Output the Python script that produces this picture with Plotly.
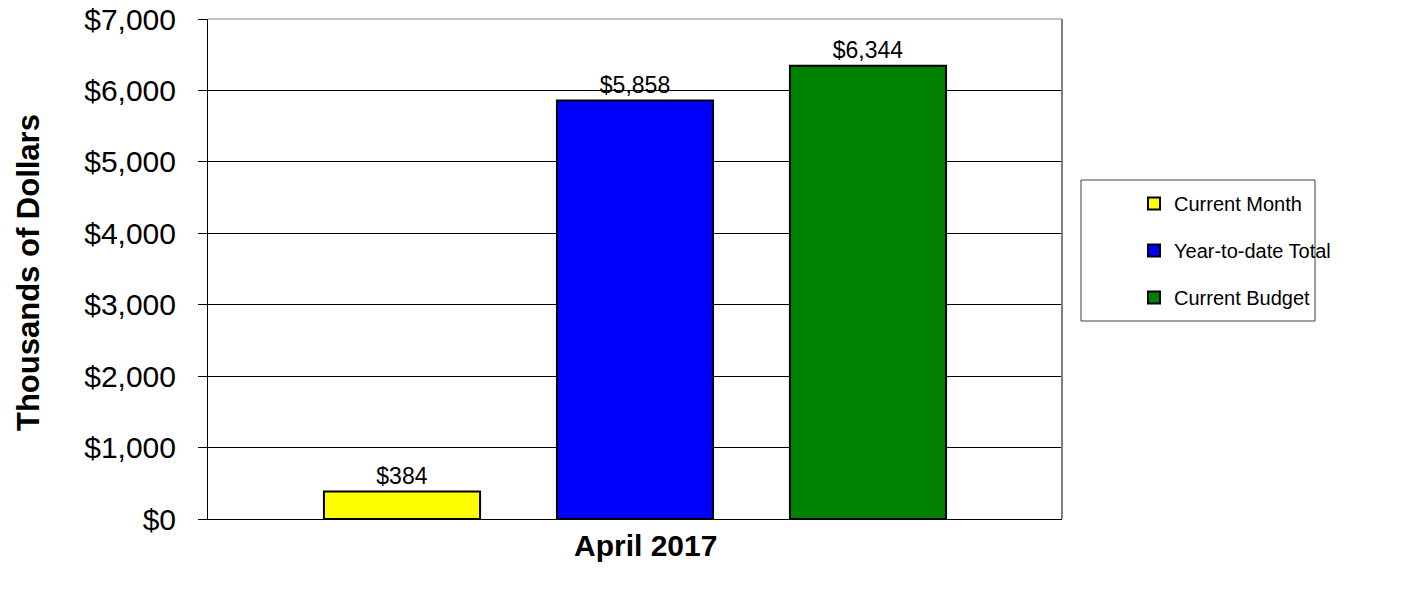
import plotly.graph_objects as go

category = ["April 2017"]
series_names = ["Current Month", "Year-to-date Total", "Current Budget"]
series_values = [[384], [5858], [6344]]
series_colors = ["#FFFF00", "#0000FF", "#008000"]
y_ticks = [0, 1000, 2000, 3000, 4000, 5000, 6000, 7000]
y_tick_labels = ["$" + format(v, ",") for v in y_ticks]

FONT = "Liberation Sans, Arial, sans-serif"

W, H = 1402, 592
L, R, T, B = 208, 340, 19, 73
pw = W - L - R
ph = H - T - B

fig = go.Figure()
for i, (name, vals, col) in enumerate(zip(series_names, series_values, series_colors)):
    fig.add_trace(go.Bar(
        x=category, y=vals, name=name, legendgroup=name,
        marker=dict(color=col, line=dict(color="black", width=2)),
        text=["$" + format(v, ",") for v in vals], texttemplate="%{text}",
        textposition="outside",
        textfont=dict(size=23, color="black", family=FONT),
        cliponaxis=False,
    ))

def px_x(p):
    return (p - L) / pw

def px_y(p):
    return (H - B - p) / ph

fig.update_layout(
    width=W, height=H,
    margin=dict(l=L, r=R, t=T, b=B, autoexpand=False),
    paper_bgcolor="white", plot_bgcolor="white",
    font=dict(family=FONT, color="black"),
    barmode="group", bargap=0.1815, bargroupgap=0.33,
    showlegend=True,
    legend=dict(
        x=px_x(1134), xanchor="left", y=px_y(184), yanchor="top",
        font=dict(size=20, family=FONT, color="black"),
        bgcolor="rgba(0,0,0,0)", borderwidth=0,
        tracegroupgap=18, traceorder="grouped",
        itemwidth=30,
    ),
    xaxis=dict(
        showticklabels=False, showgrid=False, ticks="",
        showline=True, linecolor="black", linewidth=1,
        zeroline=False, automargin=False,
    ),
    yaxis=dict(
        range=[0, 7000], tickvals=y_ticks, ticktext=y_tick_labels,
        tickfont=dict(size=30, family=FONT, color="black"),
        ticks="outside", ticklen=9, tickcolor="black", tickwidth=1,
        ticklabelstandoff=16,
        showgrid=True, gridcolor="black", gridwidth=1,
        showline=True, linecolor="black", linewidth=1,
        zeroline=False, automargin=False,
    ),
    shapes=[
        dict(type="line", xref="paper", yref="paper", x0=0, x1=1, y0=1, y1=1,
             line=dict(color="#808080", width=1)),
        dict(type="line", xref="paper", yref="paper", x0=1, x1=1, y0=0, y1=1,
             line=dict(color="#808080", width=2)),
        dict(type="rect", xref="paper", yref="paper",
             x0=px_x(1081), x1=px_x(1315), y0=px_y(321), y1=px_y(180),
             line=dict(color="#404040", width=1), fillcolor="rgba(0,0,0,0)"),
    ],
    annotations=[
        dict(text="<b>April 2017</b>", xref="paper", yref="paper",
             x=px_x(645), y=px_y(545), xanchor="center", yanchor="middle",
             showarrow=False, font=dict(size=30, family=FONT, color="black")),
        dict(text="<b>Thousands of Dollars</b>", xref="paper", yref="paper",
             x=px_x(28), y=px_y(273), xanchor="center", yanchor="middle",
             textangle=-90, showarrow=False,
             font=dict(size=31, family=FONT, color="black")),
    ],
)

fig.write_html("out.html")
